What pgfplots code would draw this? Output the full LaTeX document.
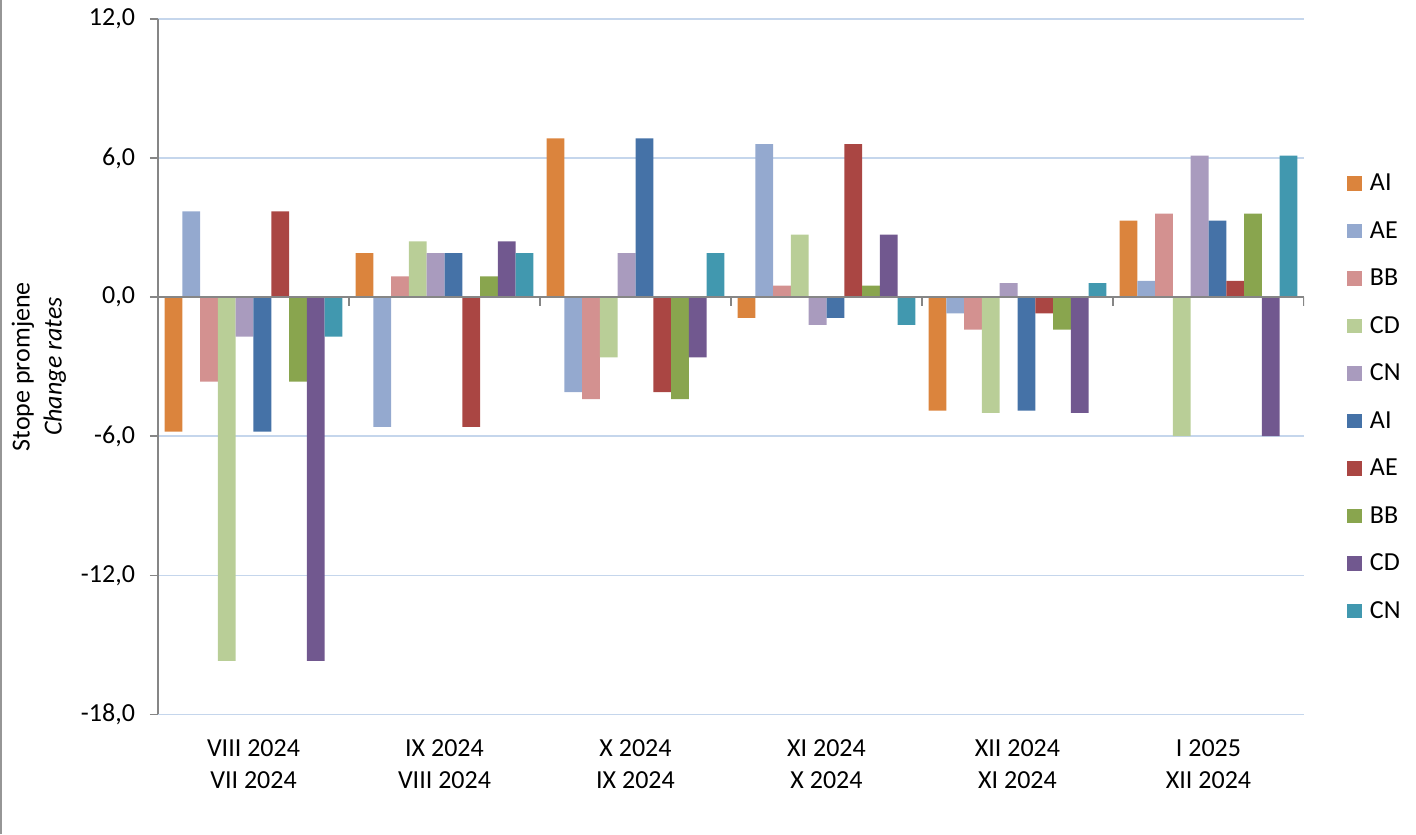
\documentclass[border=0pt]{standalone}
\usepackage{pgfplots}
\pgfplotsset{compat=1.18}
\usepackage{fontspec}
\setmainfont{Carlito}
\definecolor{cAI}{RGB}{219,132,61}
\definecolor{cAE}{RGB}{148,169,207}
\definecolor{cBB}{RGB}{211,145,144}
\definecolor{cCD}{RGB}{185,206,151}
\definecolor{cCN}{RGB}{169,155,190}
\definecolor{dAI}{RGB}{69,114,167}
\definecolor{dAE}{RGB}{170,70,67}
\definecolor{dBB}{RGB}{137,165,78}
\definecolor{dCD}{RGB}{113,88,143}
\definecolor{dCN}{RGB}{65,152,175}
\definecolor{axisgray}{RGB}{134,134,134}
\definecolor{gridblue}{RGB}{197,214,236}
\begin{document}
\begin{tikzpicture}[font=\fontsize{13}{16}\selectfont]
\path[use as bounding box] (0,0) rectangle (708pt,417pt);
\draw[color={rgb,255:red,150;green,150;blue,150}, line width=1pt] (0.6pt,0) -- (0.6pt,417pt);
\begin{axis}[
  at={(79pt,59.85pt)}, anchor=south west,
  width=573pt, height=347.65pt, scale only axis,
  xmin=-0.5, xmax=5.5, ymin=-18, ymax=12,
  ybar=0pt, bar width=0.0931,
  axis x line*=bottom, axis y line*=left,
  x axis line style={draw=none},
  y axis line style={draw=axisgray, line width=0.7pt},
  xtick={0,1,2,3,4,5},
  xticklabels={{VIII 2024\\VII 2024},{IX 2024\\VIII 2024},{X 2024\\IX 2024},{XI 2024\\X 2024},{XII 2024\\XI 2024},{I 2025\\XII 2024}},
  xticklabel style={align=center, yshift=-5pt},
  x tick style={draw=none},
  ytick={-18,-12,-6,0,6,12},
  y tick style={draw=axisgray, line width=0.7pt},
  tick align=outside, major tick length=4pt,
  yticklabel style={/pgf/number format/fixed, /pgf/number format/fixed zerofill, /pgf/number format/precision=1, /pgf/number format/use comma, /pgf/number format/assume math mode=true, xshift=-4pt},
  ymajorgrids, major grid style={draw=gridblue, line width=0.7pt},
  ylabel={Stope promjene\\\textit{Change rates}},
  ylabel style={at={([xshift=-59.5pt]axis description cs:0,0.5)}, anchor=center, align=center},
  legend style={at={(axis description cs:1.0375,0.4585)}, anchor=west, draw=none, fill=none, inner sep=0pt, outer sep=0pt, row sep=14.75pt,
    nodes={inner sep=0pt, text height=9pt, text depth=0pt, anchor=base west},
    /tikz/every odd column/.append style={column sep=4.2pt}},
  legend cell align=left,
  legend image code/.code={\fill[#1] (0pt,0pt) rectangle (7.3pt,7.3pt);},
]
\addplot[fill=cAI, draw=none] coordinates {(0,-5.8) (1,1.9) (2,6.85) (3,-0.9) (4,-4.9) (5,3.3)};
\addplot[fill=cAE, draw=none] coordinates {(0,3.7) (1,-5.6) (2,-4.1) (3,6.6) (4,-0.7) (5,0.7)};
\addplot[fill=cBB, draw=none] coordinates {(0,-3.65) (1,0.9) (2,-4.4) (3,0.5) (4,-1.4) (5,3.6)};
\addplot[fill=cCD, draw=none] coordinates {(0,-15.7) (1,2.4) (2,-2.6) (3,2.7) (4,-5.0) (5,-6.0)};
\addplot[fill=cCN, draw=none] coordinates {(0,-1.7) (1,1.9) (2,1.9) (3,-1.2) (4,0.6) (5,6.1)};
\addplot[fill=dAI, draw=none] coordinates {(0,-5.8) (1,1.9) (2,6.85) (3,-0.9) (4,-4.9) (5,3.3)};
\addplot[fill=dAE, draw=none] coordinates {(0,3.7) (1,-5.6) (2,-4.1) (3,6.6) (4,-0.7) (5,0.7)};
\addplot[fill=dBB, draw=none] coordinates {(0,-3.65) (1,0.9) (2,-4.4) (3,0.5) (4,-1.4) (5,3.6)};
\addplot[fill=dCD, draw=none] coordinates {(0,-15.7) (1,2.4) (2,-2.6) (3,2.7) (4,-5.0) (5,-6.0)};
\addplot[fill=dCN, draw=none] coordinates {(0,-1.7) (1,1.9) (2,1.9) (3,-1.2) (4,0.6) (5,6.1)};
\legend{AI,AE,BB,CD,CN,AI,AE,BB,CD,CN}
\draw[axisgray, line width=0.9pt] (axis cs:-0.5,0) -- (axis cs:5.5,0);
\pgfplotsinvokeforeach{0.5,1.5,2.5,3.5,4.5,5.5}{
  \draw[axisgray, line width=0.9pt] (axis cs:#1,0) -- ([yshift=-4.5pt]axis cs:#1,0);
}
\end{axis}
\end{tikzpicture}
\end{document}
